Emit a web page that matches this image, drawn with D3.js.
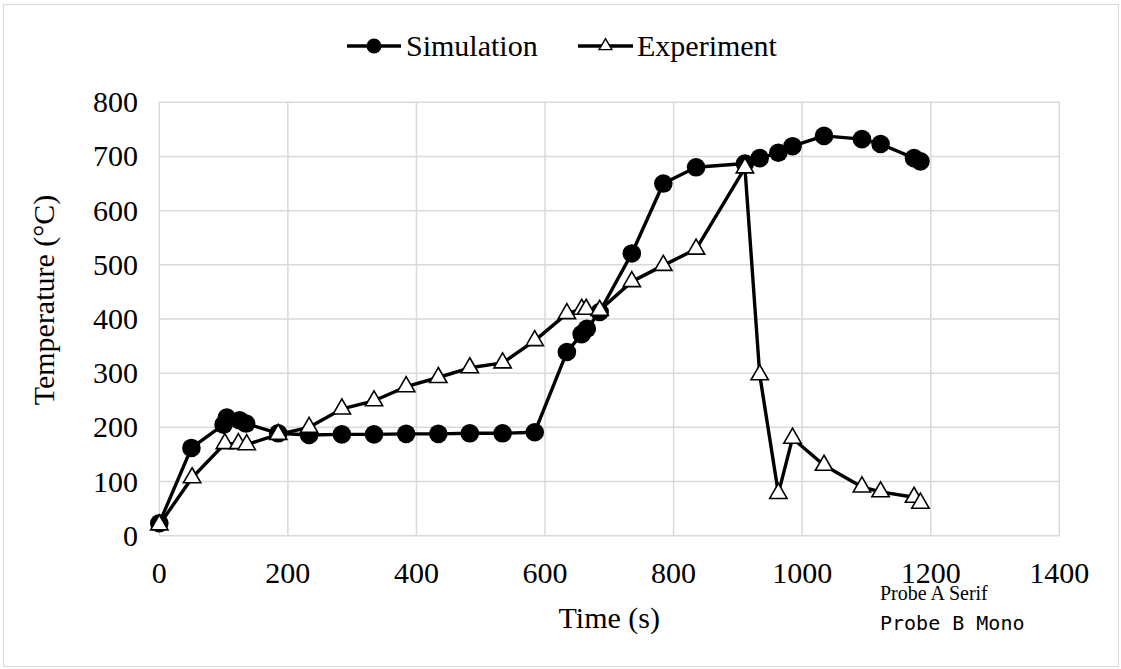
<!DOCTYPE html>
<html>
<head>
<meta charset="utf-8">
<script src="https://cdn.jsdelivr.net/npm/d3@7"></script>
</head>
<body style="margin:0">
<svg id="fig" width="1121" height="669"></svg>
<script>
// ---- data ----
const simTime = [0, 50, 100, 105, 125, 135, 185, 233, 284, 334, 384, 434, 483, 534, 584, 634, 657, 665, 685, 735, 784, 835, 911, 934, 963, 985, 1034, 1093, 1122, 1174, 1184];
const simTemp = [23, 162, 205, 218, 213, 207, 189, 186, 187, 187, 188, 188, 189, 189, 191, 339, 372, 382, 413, 521, 650, 680, 687, 697, 707, 719, 738, 732, 723, 697, 691];

const expTime = [0, 51, 102, 123, 136, 185, 233, 284, 334, 384, 434, 483, 534, 584, 634, 657, 664, 685, 735, 784, 835, 911, 934, 963, 985, 1034, 1093, 1122, 1174, 1184];
const expTemp = [20, 107, 170, 170, 168, 187, 200, 234, 249, 275, 292, 310, 319, 360, 410, 418, 418, 416, 469, 499, 529, 679, 297, 78, 180, 130, 90, 81, 71, 60];

const xTicks = [0, 200, 400, 600, 800, 1000, 1200, 1400];
const yTicks = [0, 100, 200, 300, 400, 500, 600, 700, 800];
const seriesNames = ["Simulation", "Experiment"];

// ---- layout ----
const W = 1121, H = 669;
const plot = { left: 159.3, right: 1059.3, top: 102.3, bottom: 535.7 };
const FONT = 30;

const svg = d3.select("#fig");

// probe texts (diagnostic)
svg.append("text").attr("x", 880).attr("y", 600)
  .style("font-family", "'Liberation Serif'").style("font-size", "20px")
  .text("Probe A Serif");
svg.append("text").attr("x", 880).attr("y", 630)
  .attr("font-family", "DejaVu Sans Mono").attr("font-size", 20)
  .text("Probe B Mono");

// outer border
svg.append("rect")
  .attr("x", 3.5).attr("y", 4.5)
  .attr("width", W - 6).attr("height", H - 7)
  .attr("fill", "none").attr("stroke", "#d9d9d9").attr("stroke-width", 1);

const x = d3.scaleLinear().domain([0, 1400]).range([plot.left, plot.right]);
const y = d3.scaleLinear().domain([0, 800]).range([plot.bottom, plot.top]);

// gridlines
const grid = svg.append("g").attr("stroke", "#d9d9d9").attr("stroke-width", 1.5);
grid.selectAll("line.h").data(yTicks).join("line")
  .attr("x1", plot.left).attr("x2", plot.right)
  .attr("y1", d => y(d)).attr("y2", d => y(d));
grid.selectAll("line.v").data(xTicks).join("line")
  .attr("y1", plot.top).attr("y2", plot.bottom)
  .attr("x1", d => x(d)).attr("x2", d => x(d));

// tick labels drawn from the scales
svg.append("g").selectAll("text").data(xTicks).join("text")
  .attr("x", d => x(d)).attr("y", 583)
  .attr("text-anchor", "middle")
  .style("font-family", "'Liberation Serif'").style("font-size", FONT + "px")
  .text(d => d);
svg.append("g").selectAll("text").data(yTicks).join("text")
  .attr("x", 138).attr("y", d => y(d) + 10)
  .attr("text-anchor", "end")
  .style("font-family", "'Liberation Serif'").style("font-size", FONT + "px")
  .text(d => d);

// axis titles
svg.append("text")
  .attr("x", (plot.left + plot.right) / 2).attr("y", 628)
  .attr("text-anchor", "middle")
  .style("font-family", "'Liberation Serif'").style("font-size", FONT + "px")
  .text("Time (s)");
svg.append("text")
  .attr("transform", "translate(54,300) rotate(-90)")
  .attr("text-anchor", "middle")
  .style("font-family", "'Liberation Serif'").style("font-size", FONT + "px")
  .text("Temperature (\u00B0C)");

// series
const sim = simTime.map((t, i) => ({ t, v: simTemp[i] }));
const exp = expTime.map((t, i) => ({ t, v: expTemp[i] }));
const line = d3.line().x(d => x(d.t)).y(d => y(d.v));

svg.append("path").datum(sim)
  .attr("d", line).attr("fill", "none").attr("stroke", "#000")
  .attr("stroke-width", 3.4).attr("stroke-linejoin", "round");
svg.append("g").selectAll("circle").data(sim).join("circle")
  .attr("cx", d => x(d.t)).attr("cy", d => y(d.v)).attr("r", 9.3)
  .attr("fill", "#000");

const tri = d3.symbol().type(d3.symbolTriangle).size(130);
svg.append("path").datum(exp)
  .attr("d", line).attr("fill", "none").attr("stroke", "#000")
  .attr("stroke-width", 3.4).attr("stroke-linejoin", "round");
svg.append("g").selectAll("path").data(exp).join("path")
  .attr("d", tri)
  .attr("transform", d => `translate(${x(d.t)},${y(d.v)})`)
  .attr("fill", "#fff").attr("stroke", "#000").attr("stroke-width", 1.6);

// legend
const legY = 46;
const leg = svg.append("g");
leg.append("line").attr("x1", 347).attr("x2", 401).attr("y1", legY).attr("y2", legY)
  .attr("stroke", "#000").attr("stroke-width", 3.4);
leg.append("circle").attr("cx", 374).attr("cy", legY).attr("r", 7.5).attr("fill", "#000");
leg.append("text").attr("x", 406).attr("y", 56)
  .style("font-family", "'Liberation Serif'").style("font-size", FONT + "px")
  .text(seriesNames[0]);
leg.append("line").attr("x1", 578).attr("x2", 633).attr("y1", legY).attr("y2", legY)
  .attr("stroke", "#000").attr("stroke-width", 3.4);
leg.append("path").attr("d", d3.symbol().type(d3.symbolTriangle).size(70)())
  .attr("transform", `translate(605.5,${legY})`)
  .attr("fill", "#fff").attr("stroke", "#000").attr("stroke-width", 1.4);
leg.append("text").attr("x", 637).attr("y", 56)
  .style("font-family", "'Liberation Serif'").style("font-size", FONT + "px")
  .text(seriesNames[1]);
</script>
</body>
</html>
